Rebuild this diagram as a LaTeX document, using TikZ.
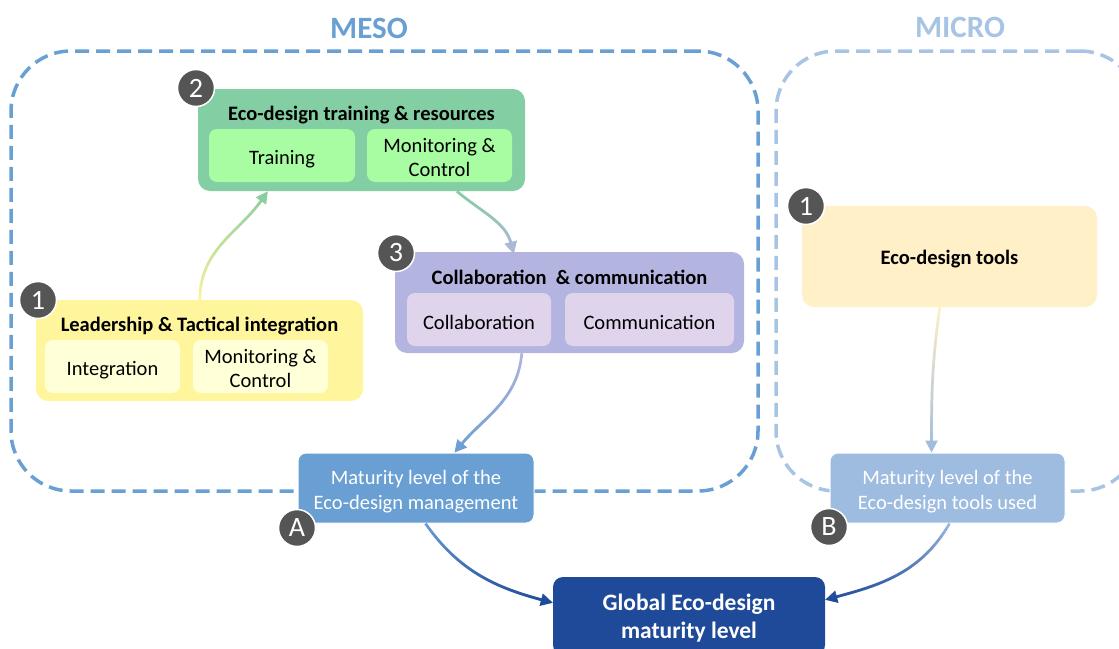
\documentclass[tikz,border=0pt]{standalone}
\usepackage{fontspec}
\setmainfont{Carlito}
\usetikzlibrary{arrows.meta,fadings,calc}
\definecolor{mesoblue}{HTML}{6A9FD4}
\definecolor{microblue}{HTML}{A8C4E4}
\definecolor{cgreen}{HTML}{84CEA3}
\definecolor{cgreenin}{HTML}{A8FCA2}
\definecolor{cyellow}{HTML}{FFF59D}
\definecolor{cyellowin}{HTML}{FFFFD8}
\definecolor{cpurple}{HTML}{B3B5E0}
\definecolor{cpurplein}{HTML}{E0D4EC}
\definecolor{ctool}{HTML}{FFF0C8}
\definecolor{cmatA}{HTML}{6A9FD4}
\definecolor{cmatB}{HTML}{9DBCE0}
\definecolor{cglob}{HTML}{1F4A9A}
\definecolor{badgegray}{HTML}{555555}
\tikzfading[name=fadetop, top color=transparent!0, bottom color=transparent!100]
\tikzfading[name=fadebottom, top color=transparent!100, bottom color=transparent!0]
\tikzset{
  outerbox/.style={rounded corners=12pt, inner sep=0pt, draw=none},
  innerbox/.style={rounded corners=8pt, inner sep=0pt, draw=none, minimum height=53pt},
  innertxt/.style={inner sep=0pt, align=center, yshift=-3pt,
    font=\fontsize{20.5}{24}\selectfont},
  boxtitle/.style={font=\bfseries\fontsize{20.5}{22}\selectfont, inner sep=0pt},
  zonetitle/.style={font=\bfseries\fontsize{31}{31}\selectfont, inner sep=0pt},
  zonebox/.style={draw, line width=3.5pt, dash pattern=on 14pt off 7pt,
    rounded corners=60pt, inner sep=0pt},
  badge/.style={circle, fill=badgegray, draw=white, line width=1.5pt,
    minimum size=37pt, inner sep=0pt, text=white, font=\fontsize{28}{28}\selectfont},
  matbox/.style={rounded corners=8pt, draw=white, line width=1pt, inner sep=0pt,
    minimum width=236pt, minimum height=70pt},
  mattxt/.style={inner sep=0pt, align=center, yshift=-4pt, text=white,
    font=\fontsize{20.5}{25}\selectfont},
  globtxt/.style={inner sep=0pt, align=center, yshift=-2pt, text=white,
    font=\bfseries\fontsize{23.5}{28}\selectfont},
  arr/.style={line width=2.7pt, -{Triangle[length=12pt,width=12pt]}}
}
\begin{document}
\begin{tikzpicture}[x=1pt,y=-1pt]
\useasboundingbox (0,0) rectangle (1119,648);

% zones
\node[zonetitle, text=mesoblue] (meso) at (369,28) {MESO};
\node[zonetitle, text=microblue] (micro) at (960,27) {MICRO};
\node[zonebox, draw=mesoblue, minimum width=747pt, minimum height=440pt] (mesobox) at (384.5,271) {};
\node[zonebox, draw=microblue, minimum width=364pt, minimum height=440pt] (microbox) at (958,271) {};

% box 2
\node[outerbox, fill=cgreen, minimum width=327pt, minimum height=102pt] (b2) at (361.5,140) {};
\node[boxtitle] (b2t) at (361.5,115) {Eco-design training \& resources};
\node[innerbox, fill=cgreenin, minimum width=146pt,
  label={[innertxt, yshift=-1pt]center:Training}] (b2a) at (282,155.5) {};
\node[innerbox, fill=cgreenin, minimum width=145pt,
  label={[innertxt, yshift=1pt]center:{Monitoring \&\\Control}}] (b2b) at (439.5,155.5) {};
\node[badge] (bg2) at (196,88) {2};

% box 1
\node[outerbox, fill=cyellow, minimum width=327pt, minimum height=101pt] (b1) at (199.5,350.5) {};
\node[boxtitle] (b1t) at (199.5,326) {Leadership \& Tactical\ integration};
\node[innerbox, fill=cyellowin, minimum width=135pt,
  label={[innertxt, yshift=-1pt]center:Integration}] (b1a) at (112.5,366.5) {};
\node[innerbox, fill=cyellowin, minimum width=135pt,
  label={[innertxt, yshift=1pt]center:{Monitoring \&\\Control}}] (b1b) at (260.5,366.5) {};
\node[badge] (bg1) at (38,300) {1};

% box 3
\node[outerbox, fill=cpurple, minimum width=349pt, minimum height=101pt] (b3) at (569.5,302.5) {};
\node[boxtitle] (b3t) at (569.5,277) {Collaboration\ \ \& communication};
\node[innerbox, fill=cpurplein, minimum width=144pt,
  label={[innertxt]center:Collaboration}] (b3a) at (479,319.5) {};
\node[innerbox, fill=cpurplein, minimum width=169pt,
  label={[innertxt]center:Communication}] (b3b) at (649.5,319.5) {};
\node[badge] (bg3) at (396,253) {3};

% micro tools
\node[outerbox, fill=ctool, minimum width=295pt, minimum height=101pt,
  label={[boxtitle, yshift=-3pt]center:Eco-design tools}] (mb) at (949.5,256.5) {};
\node[badge] (bgm) at (806,206) {1};

% maturity boxes
\node[matbox, fill=cmatA,
  label={[mattxt]center:{Maturity level of the\\Eco-design management}}] (matA) at (416,488) {};
\node[badge] (bgA) at (297,528) {A};
\node[matbox, fill=cmatB, minimum width=235pt,
  label={[mattxt]center:{Maturity level of the\\Eco-design tools used}}] (matB) at (947.5,488) {};
\node[badge] (bgB) at (829,527) {B};

% global
\node[rounded corners=10pt, fill=cglob, inner sep=0pt, minimum width=272pt, minimum height=78pt,
  label={[globtxt]center:{Global Eco-design\\maturity level}}]
  (glob) at (689,616) {};

% connector end points
\coordinate (s1) at ($(b1.north west)+(164,0)$);
\coordinate (e1) at ($(b2.south west)+(70,0)$);
\coordinate (s2) at ($(b2.south west)+(259,0)$);
\coordinate (e2) at ($(b3.north west)+(119,2)$);
\coordinate (s3) at ($(b3.south west)+(127,0)$);
\coordinate (e3) at ($(matA.north west)+(157,0)$);
\coordinate (s4) at ($(mb.south west)+(138,0)$);
\coordinate (e4) at ($(matB.north west)+(102,0)$);
\coordinate (s5) at ($(matA.south west)+(128,0)$);
\coordinate (e5) at ($(glob.north west)+(0,26)$);
\coordinate (s6) at ($(matB.south west)+(120,0)$);
\coordinate (e6) at ($(glob.north east)+(0,23)$);

% arrows (gradient by overlay with fading)
\draw[arr, cyellow] (s1) to[out=90,in=235] (e1);
\draw[arr, cgreen, path fading=fadetop] (s1) to[out=90,in=235] (e1);

\draw[arr, cgreen] (s2) to[out=-40,in=105] (e2);
\draw[arr, cpurple, path fading=fadebottom] (s2) to[out=-40,in=105] (e2);

\draw[arr, cpurple] (s3) to[out=-95,in=50] (e3);
\draw[arr, cmatA, path fading=fadebottom] (s3) to[out=-95,in=50] (e3);

\draw[arr, ctool] (s4) to[out=-98,in=90] (e4);
\draw[arr, cmatB, path fading=fadebottom] (s4) to[out=-98,in=90] (e4);

\draw[arr, cmatA] (s5) to[out=-55,in=165] (e5);
\draw[arr, cglob, path fading=fadebottom] (s5) to[out=-55,in=165] (e5);

\draw[arr, cmatB] (s6) to[out=-120,in=15] (e6);
\draw[arr, cglob, path fading=fadebottom] (s6) to[out=-120,in=15] (e6);
\end{tikzpicture}
\end{document}
